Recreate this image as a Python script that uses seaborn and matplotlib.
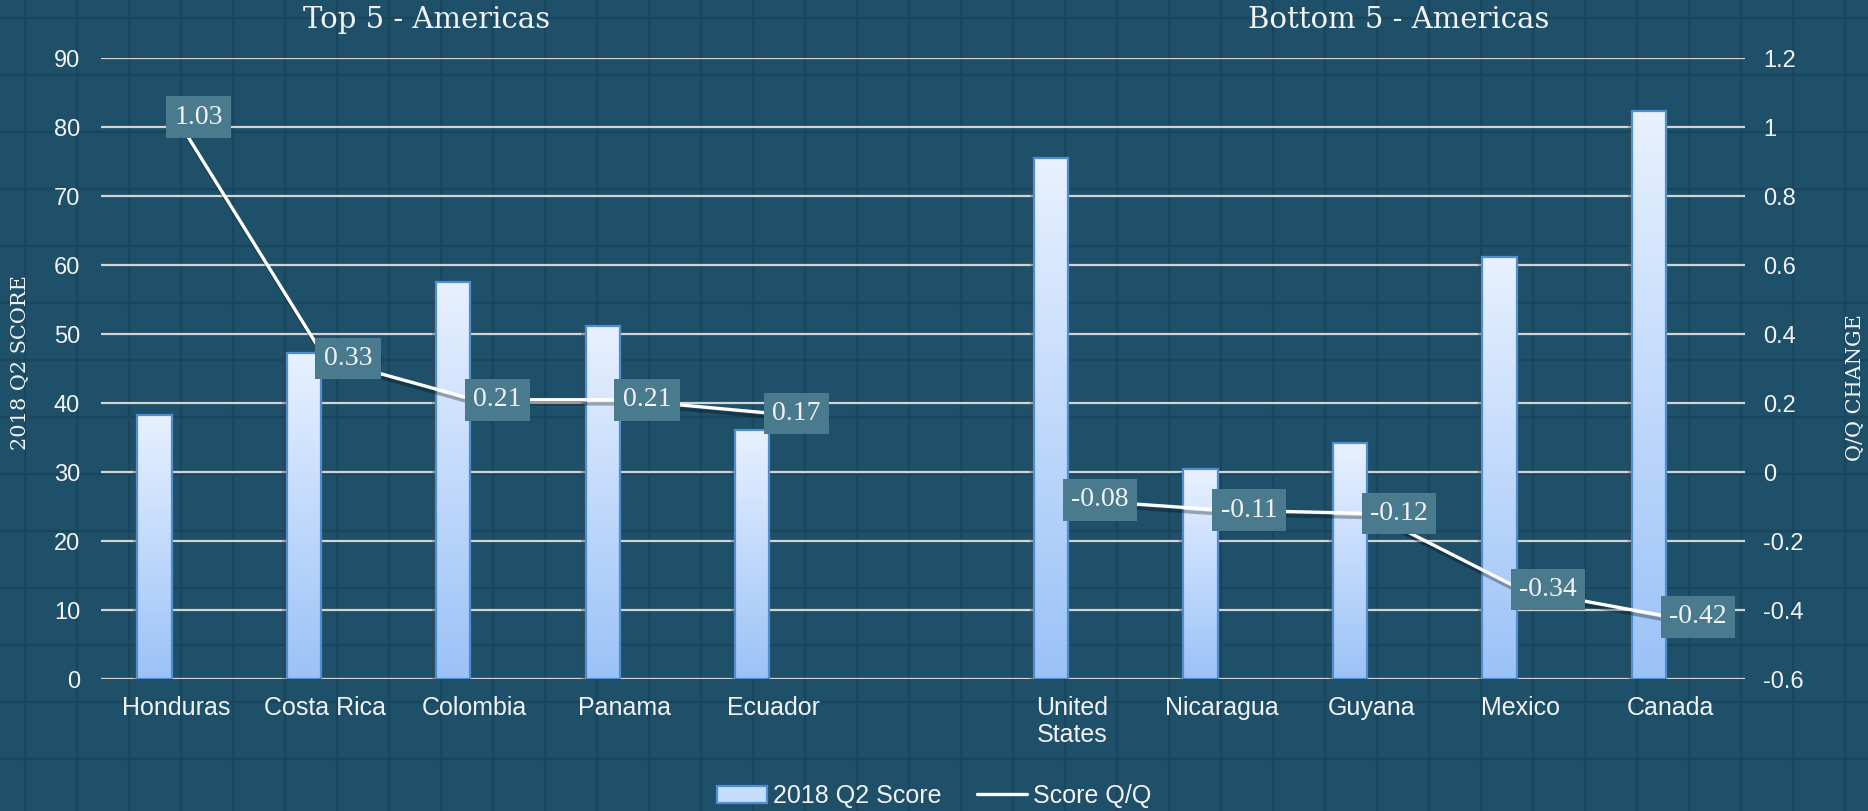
import numpy as np
import pandas as pd
import seaborn as sns
import matplotlib.pyplot as plt
import matplotlib.patheffects as pe
from matplotlib.colors import LinearSegmentedColormap
from matplotlib.patches import Patch, Rectangle
from matplotlib.lines import Line2D

# Data
top_countries = ['Honduras', 'Costa Rica', 'Colombia', 'Panama', 'Ecuador']
top_scores = [38.3, 47.3, 57.6, 51.2, 36.1]
top_change = [1.03, 0.33, 0.21, 0.21, 0.17]

bottom_countries = ['United\nStates', 'Nicaragua', 'Guyana', 'Mexico', 'Canada']
bottom_scores = [75.6, 30.4, 34.2, 61.2, 82.4]
bottom_change = [-0.08, -0.11, -0.12, -0.34, -0.42]

score_ticks = [0, 10, 20, 30, 40, 50, 60, 70, 80, 90]
change_ticks = [-0.6, -0.4, -0.2, 0, 0.2, 0.4, 0.6, 0.8, 1.0, 1.2]

# Colours / fonts
BG = '#1F5069'
PATTERN = '#1A465D'
GRID = '#D4D4D4'
TEXT = '#F2F2F2'
LABEL_BOX = '#4A7A8E'
BAR_EDGE = '#4F8FD0'
SERIF = 'DejaVu Serif'
SANS = 'Liberation Sans'

sns.set_theme(style='white')
plt.rcParams['font.family'] = [SANS, 'DejaVu Sans']
plt.rcParams['axes.unicode_minus'] = False

W, H = 1868, 811
fig = plt.figure(figsize=(W / 100, H / 100), dpi=100, facecolor=BG)

# background checker lines
bg = fig.add_axes([0, 0, 1, 1], zorder=-1)
bg.set_xlim(0, W)
bg.set_ylim(H, 0)
bg.set_facecolor(BG)
bg.axis('off')
for gx in np.arange(25, W, 52):
    bg.axvline(gx, color=PATTERN, lw=1.6)
for gy in np.arange(18, H, 57):
    bg.axhline(gy, color=PATTERN, lw=1.6)

ax = fig.add_axes([101 / W, 1 - 679 / H, (1745 - 101) / W, (679 - 58.4) / H])
ax.set_facecolor('none')

order = top_countries + [''] + bottom_countries
df = pd.DataFrame({'country': top_countries + bottom_countries,
                   'score': top_scores + bottom_scores})
sns.barplot(data=df, x='country', y='score', order=order, width=0.23,
            color='#C5DCFB', ax=ax)

# bars sit left of the category centre (hidden second cluster slot in the original)
cmap = LinearSegmentedColormap.from_list('bar', ['#9BC2F7', '#E8F1FF'])
grad = np.linspace(0, 1, 256).reshape(-1, 1)
for bar in list(ax.patches):
    bar.set_x(bar.get_x() - 0.143)
    x0, w, h = bar.get_x(), bar.get_width(), bar.get_height()
    bar.set_edgecolor('none')
    bar.set_zorder(2)
    bar.set_path_effects([pe.SimplePatchShadow(offset=(-3, -2), alpha=0.3),
                          pe.Normal()])
    im = ax.imshow(grad, extent=[x0, x0 + w, 0, h], origin='lower',
                   aspect='auto', cmap=cmap, zorder=2.5)
    im.set_clip_path(bar)
    ax.add_patch(Rectangle((x0, 0), w, h, fill=False, ec=BAR_EDGE, lw=1.6,
                           zorder=3))

ax.set_ylim(0, 90)
ax.set_yticks(score_ticks)
ax.grid(axis='y', color=GRID, lw=1.6)
ax.grid(axis='x', visible=False)
ax.set_axisbelow(True)
for s in ax.spines.values():
    s.set_visible(False)
ax.tick_params(axis='y', length=0, pad=15, labelsize=17, labelcolor=TEXT)
ax.tick_params(axis='x', length=0, pad=12, labelsize=18, labelcolor=TEXT)
ax.set_xlabel('')
ax.set_ylabel('2018 Q2 SCORE', family=SERIF, fontsize=15, color=TEXT,
              va='center')
ax.yaxis.set_label_coords(-0.0487, 0.51)

# Q/Q change line on the secondary axis
ax2 = ax.twinx()
shadow = [pe.SimpleLineShadow(offset=(1, -3), alpha=0.3, shadow_color='black'),
          pe.Normal()]
for names, vals in [(top_countries, top_change), (bottom_countries, bottom_change)]:
    pos = [order.index(n) for n in names]
    sns.lineplot(x=pos, y=vals, ax=ax2, color='white', lw=2.4,
                 path_effects=shadow)
    for p, v in zip(pos, vals):
        ax2.annotate(f'{v:.2f}', xy=(p, v), xytext=(-1, 0),
                     textcoords='offset points', ha='left', va='center',
                     family='Liberation Serif', fontsize=20, color=TEXT,
                     bbox=dict(boxstyle='square,pad=0.3', fc=LABEL_BOX,
                               ec='none'))

ax2.set_ylim(-0.6, 1.2)
ax2.set_yticks(change_ticks)
ax2.set_yticklabels([f'{round(t, 1):g}' for t in change_ticks])
ax2.tick_params(axis='y', length=0, pad=13, labelsize=17, labelcolor=TEXT)
for s in ax2.spines.values():
    s.set_visible(False)
ax2.grid(False)
ax2.set_ylabel('Q/Q CHANGE', family=SERIF, fontsize=15, color=TEXT,
               va='center')
ax2.yaxis.set_label_coords(1.0675, 0.47)

ax.set_xlim(-0.5, 10.5)

# group titles
fig.text(427 / W, 1 - 20 / H, 'Top 5 - Americas', family=SERIF, fontsize=21,
         color=TEXT, ha='center', va='center')
fig.text(1399 / W, 1 - 20 / H, 'Bottom 5 - Americas', family=SERIF,
         fontsize=21, color=TEXT, ha='center', va='center')

handles = [Patch(facecolor='#C5DCFB', edgecolor=BAR_EDGE, lw=1.6),
           Line2D([0], [0], color='white', lw=2.4)]
leg = fig.legend(handles, ['2018 Q2 Score', 'Score Q/Q'], loc='center',
                 bbox_to_anchor=(0.5, 1 - 796 / H), ncol=2, frameon=False,
                 fontsize=18, handlelength=2.0, handletextpad=0.25,
                 columnspacing=1.4)
for t in leg.get_texts():
    t.set_color(TEXT)

fig.savefig('out.png', dpi=100, facecolor=BG)
